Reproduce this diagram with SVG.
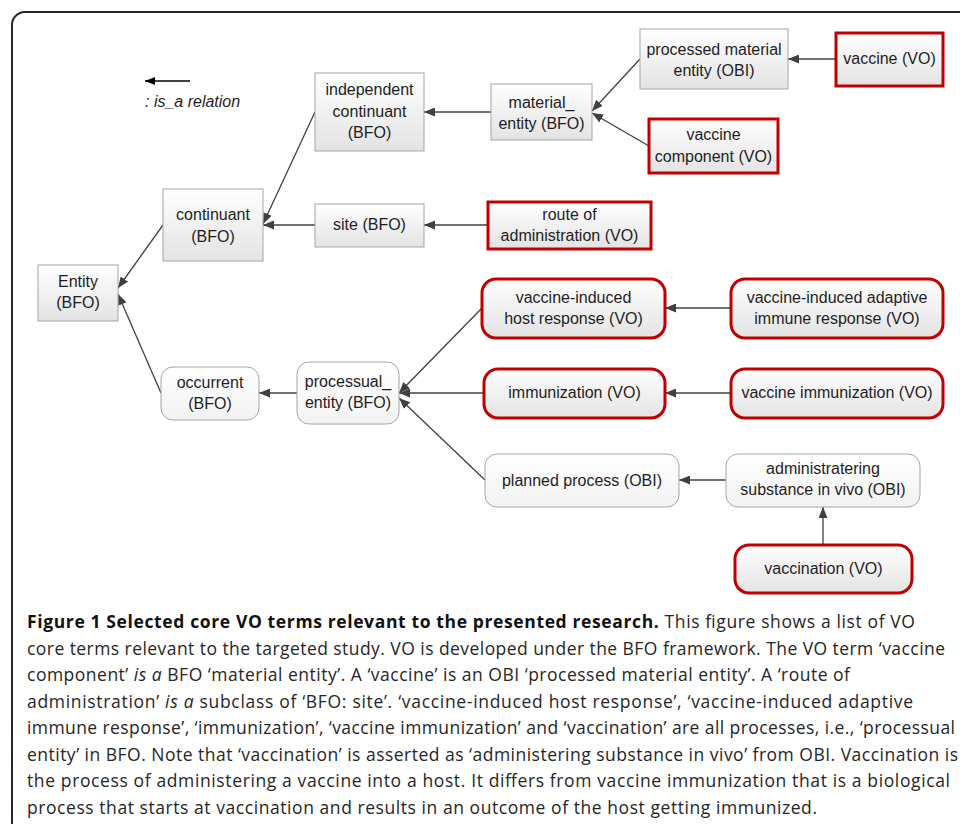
<svg xmlns="http://www.w3.org/2000/svg" width="960" height="824" viewBox="0 0 960 824">
<defs>
<linearGradient id="gGray" x1="0" y1="0" x2="0" y2="1">
<stop offset="0" stop-color="#ffffff"/><stop offset="1" stop-color="#e3e3e3"/>
</linearGradient>
<linearGradient id="gLight" x1="0" y1="0" x2="0" y2="1">
<stop offset="0" stop-color="#ffffff"/><stop offset="1" stop-color="#f3f3f3"/>
</linearGradient>
<marker id="arr" viewBox="0 0 11 9" refX="11" refY="4.5" markerWidth="11" markerHeight="9" markerUnits="userSpaceOnUse" orient="auto">
<path d="M0,0 L11,4.5 L0,9 z" fill="#404040"/>
</marker>
<marker id="arrK" viewBox="0 0 10 8" refX="10" refY="4" markerWidth="10" markerHeight="8" markerUnits="userSpaceOnUse" orient="auto">
<path d="M0,0 L10,4 L0,8 z" fill="#000"/>
</marker>
</defs>
<style>
.box{fill:url(#gGray);stroke:#a6a6a6;stroke-width:1}
.red{fill:url(#gGray);stroke:#c00000;stroke-width:3}
.rbox{fill:url(#gLight);stroke:#a6a6a6;stroke-width:1}
.rred{fill:url(#gGray);stroke:#c00000;stroke-width:3}
.t{font-family:"Liberation Sans",Arial,sans-serif;font-size:16px;fill:#1e1e1e;text-anchor:middle}
.c{stroke:#404040;stroke-width:1.3;fill:none;marker-end:url(#arr)}
.cap{font-family:"Open Sans","Liberation Sans",sans-serif;font-size:17.5px;fill:#262626}
.b{font-weight:bold;fill:#111}
.i{font-style:italic}
</style>
<rect x="12" y="12" width="990" height="900" rx="13" fill="#fff" stroke="#262626" stroke-width="2"/>

<g id="legend">
<line x1="190" y1="81" x2="145" y2="81" stroke="#000" stroke-width="1.5" marker-end="url(#arrK)"/>
<text x="145" y="107" font-family="Liberation Sans,Arial,sans-serif" font-size="16" font-style="italic" fill="#1e1e1e">: is_a relation</text>
</g>

<g id="connectors">
<path class="c" d="M491,112 L424,112"/>
<path class="c" d="M640,59 L592,111"/>
<path class="c" d="M649,146 L592,113"/>
<path class="c" d="M836,59 L788,59"/>
<path class="c" d="M315,112 L263,224"/>
<path class="c" d="M315,225 L263,225"/>
<path class="c" d="M488,225 L424,225"/>
<path class="c" d="M163,225 L118,288"/>
<path class="c" d="M161,393 L118,294"/>
<path class="c" d="M297,393 L259,393"/>
<path class="c" d="M482,308 L399,393"/>
<path class="c" d="M484,393 L399,393"/>
<path class="c" d="M485,480 L399,398"/>
<path class="c" d="M731,308 L665,308"/>
<path class="c" d="M731,393 L665,393"/>
<path class="c" d="M726,480 L679,480"/>
<path class="c" d="M823,545 L823,507"/>
</g>

<g id="n_independent_continuant">
<rect class="box" x="315" y="73" width="109" height="78"/>
<text class="t" x="369.5" y="95">independent</text>
<text class="t" x="369.5" y="116.5">continuant</text>
<text class="t" x="369.5" y="138">(BFO)</text>
</g>
<g id="n_continuant">
<rect class="box" x="163" y="189" width="100" height="72"/>
<text class="t" x="213" y="220">continuant</text>
<text class="t" x="213" y="242">(BFO)</text>
</g>
<g id="n_site">
<rect class="box" x="315" y="204" width="109" height="43"/>
<text class="t" x="369.5" y="230">site (BFO)</text>
</g>
<g id="n_material_entity">
<rect class="box" x="491" y="84" width="101" height="56"/>
<text class="t" x="541.5" y="108">material_</text>
<text class="t" x="541.5" y="129">entity (BFO)</text>
</g>
<g id="n_processed_material_entity">
<rect class="box" x="640" y="29" width="148" height="60"/>
<text class="t" x="714" y="55">processed material</text>
<text class="t" x="714" y="76">entity (OBI)</text>
</g>
<g id="n_vaccine">
<rect class="red" x="836" y="33" width="107" height="53"/>
<text class="t" x="889.5" y="64">vaccine (VO)</text>
</g>
<g id="n_vaccine_component">
<rect class="red" x="649" y="119" width="129" height="54"/>
<text class="t" x="713.5" y="140">vaccine</text>
<text class="t" x="713.5" y="162">component (VO)</text>
</g>
<g id="n_route_of_administration">
<rect class="red" x="488" y="202" width="163" height="47"/>
<text class="t" x="569.5" y="220">route of</text>
<text class="t" x="569.5" y="241">administration (VO)</text>
</g>
<g id="n_entity">
<rect class="box" x="38" y="265" width="80" height="56"/>
<text class="t" x="78" y="287">Entity</text>
<text class="t" x="78" y="308">(BFO)</text>
</g>
<g id="n_occurrent">
<rect class="rbox" x="161" y="367" width="98" height="53" rx="12"/>
<text class="t" x="210" y="388">occurrent</text>
<text class="t" x="210" y="409">(BFO)</text>
</g>
<g id="n_processual_entity">
<rect class="rbox" x="297" y="362" width="102" height="62" rx="12"/>
<text class="t" x="348" y="387">processual_</text>
<text class="t" x="348" y="408">entity (BFO)</text>
</g>
<g id="n_vaccine_induced_host_response">
<rect class="rred" x="482" y="279" width="183" height="59" rx="14"/>
<text class="t" x="573.5" y="303">vaccine-induced</text>
<text class="t" x="573.5" y="324">host response (VO)</text>
</g>
<g id="n_vaccine_induced_adaptive_immune_response">
<rect class="rred" x="731" y="279" width="212" height="59" rx="14"/>
<text class="t" x="837" y="303">vaccine-induced adaptive</text>
<text class="t" x="837" y="324">immune response (VO)</text>
</g>
<g id="n_immunization">
<rect class="rred" x="484" y="369" width="181" height="49" rx="14"/>
<text class="t" x="574.5" y="398">immunization (VO)</text>
</g>
<g id="n_vaccine_immunization">
<rect class="rred" x="731" y="369" width="212" height="49" rx="14"/>
<text class="t" x="837" y="398">vaccine immunization (VO)</text>
</g>
<g id="n_planned_process">
<rect class="rbox" x="485" y="454" width="194" height="53" rx="12"/>
<text class="t" x="582" y="486">planned process (OBI)</text>
</g>
<g id="n_administering_substance_in_vivo">
<rect class="rbox" x="726" y="454" width="194" height="53" rx="12"/>
<text class="t" x="823" y="474">administratering</text>
<text class="t" x="823" y="495">substance in vivo (OBI)</text>
</g>
<g id="n_vaccination">
<rect class="rred" x="735" y="545" width="177" height="48" rx="14"/>
<text class="t" x="823.5" y="574">vaccination (VO)</text>
</g>

<g id="caption">
<text class="cap" x="27" y="628" textLength="888" lengthAdjust="spacing"><tspan class="b">Figure 1 Selected core VO terms relevant to the presented research.</tspan> This figure shows a list of VO</text>
<text class="cap" x="27" y="654.5" textLength="918" lengthAdjust="spacing">core terms relevant to the targeted study. VO is developed under the BFO framework. The VO term ‘vaccine</text>
<text class="cap" x="27" y="681" textLength="823" lengthAdjust="spacing">component’ <tspan class="i">is a</tspan> BFO ‘material entity’. A ‘vaccine’ is an OBI ‘processed material entity’. A ‘route of</text>
<text class="cap" x="27" y="707.5" textLength="886" lengthAdjust="spacing">administration’ <tspan class="i">is a</tspan> subclass of ‘BFO: site’. ‘vaccine-induced host response’, ‘vaccine-induced adaptive</text>
<text class="cap" x="27" y="734" textLength="928" lengthAdjust="spacing">immune response’, ‘immunization’, ‘vaccine immunization’ and ‘vaccination’ are all processes, i.e., ‘processual</text>
<text class="cap" x="27" y="760.5" textLength="931" lengthAdjust="spacing">entity’ in BFO. Note that ‘vaccination’ is asserted as ‘administering substance in vivo’ from OBI. Vaccination is</text>
<text class="cap" x="27" y="787" textLength="923" lengthAdjust="spacing">the process of administering a vaccine into a host. It differs from vaccine immunization that is a biological</text>
<text class="cap" x="27" y="813.5" textLength="790" lengthAdjust="spacing">process that starts at vaccination and results in an outcome of the host getting immunized.</text>
</g>
</svg>
